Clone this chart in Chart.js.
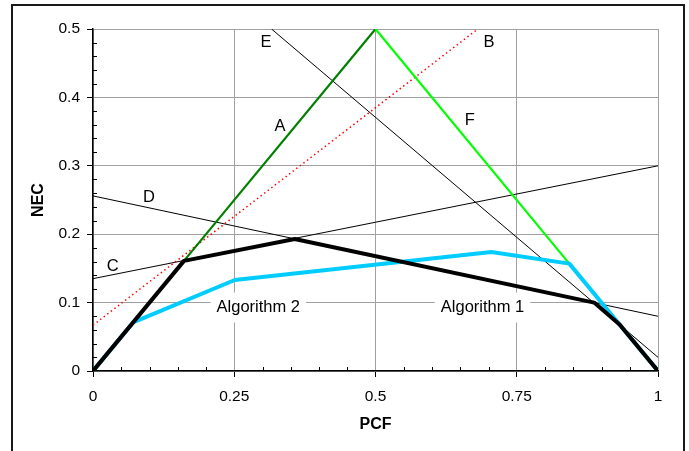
<!DOCTYPE html>
<html>
<head>
<meta charset="utf-8">
<script src="https://cdn.jsdelivr.net/npm/chart.js@4"></script>
<style>
  body { margin: 0; background: #fff; }
  canvas { display: block; }
</style>
</head>
<body>
<canvas id="necChart" width="689" height="451"></canvas>
<script>
// Lines of the cost space (PCF, NEC)
const lineA_x = [0.161, 0.5];
const lineA_y = [0.161, 0.5];
const lineB_x = [0, 0.681];
const lineB_y = [0.067, 0.5];
const lineC_x = [0, 1];
const lineC_y = [0.135, 0.30];
const lineD_x = [0, 1];
const lineD_y = [0.256, 0.08];
const lineE_x = [0.316, 1];
const lineE_y = [0.5, 0.02];
const lineF_x = [0.5, 0.843];
const lineF_y = [0.5, 0.157];

// Lower envelopes of the two algorithms
const algo1_x = [0, 0.161, 0.357, 0.887, 0.932, 1];
const algo1_y = [0, 0.161, 0.193, 0.100, 0.068, 0];
const algo2_x = [0, 0.071, 0.251, 0.705, 0.843, 0.932, 1];
const algo2_y = [0, 0.071, 0.133, 0.174, 0.157, 0.068, 0];

// Axis ticks
const xMajorStep = 0.25, xMinorStep = 0.05;
const yMajorStep = 0.1, yMinorStep = 0.02;

// Text notes placed in data coordinates
const noteText = ['A', 'B', 'C', 'D', 'E', 'F', 'Algorithm 2', 'Algorithm 1'];
const noteX = [0.331, 0.701, 0.035, 0.099, 0.306, 0.667, 0.2926, 0.6894];
const noteY = [0.358, 0.481, 0.153, 0.253, 0.480, 0.367, 0.0928, 0.0928];
const noteBoxed = [false, false, false, false, false, false, true, true];

const zip = (xs, ys) => xs.map((x, i) => ({ x: x, y: ys[i] }));
const isMajor = (v, step) => Math.abs(v / step - Math.round(v / step)) < 1e-6;

Chart.defaults.font.family = '"Liberation Sans", Arial, sans-serif';
Chart.defaults.color = '#000';

function series(data, color, width, dash) {
    return {
        data: data,
        borderColor: color,
        borderWidth: width,
        borderDash: dash || [],
        showLine: true,
        pointRadius: 0,
        fill: false,
        tension: 0,
        borderJoinStyle: 'round'
    };
}

// outer frame around the figure
const framePlugin = {
    id: 'frame',
    beforeDraw(chart) {
        const ctx = chart.ctx;
        ctx.save();
        ctx.fillStyle = '#fff';
        ctx.fillRect(0, 0, chart.width, chart.height);
        ctx.strokeStyle = '#1a1a1a';
        ctx.lineWidth = 2;
        ctx.strokeRect(12, 5, 672, 460);
        ctx.restore();
    }
};

// small inner ticks between the labelled ones
const minorTicksPlugin = {
    id: 'minorTicks',
    afterDraw(chart) {
        const { ctx, chartArea } = chart;
        const xs = chart.scales.x, ys = chart.scales.y;
        ctx.save();
        ctx.strokeStyle = '#000';
        ctx.lineWidth = 1;
        ctx.beginPath();
        for (let k = 0; k * xMinorStep <= xs.max + 1e-9; k++) {
            const v = k * xMinorStep;
            if (isMajor(v, xMajorStep)) continue;
            const px = Math.round(xs.getPixelForValue(v)) + 0.5;
            ctx.moveTo(px, chartArea.bottom);
            ctx.lineTo(px, chartArea.bottom - 4);
        }
        for (let k = 0; k * yMinorStep <= ys.max + 1e-9; k++) {
            const v = k * yMinorStep;
            if (isMajor(v, yMajorStep)) continue;
            const py = Math.round(ys.getPixelForValue(v)) + 0.5;
            ctx.moveTo(chartArea.left, py);
            ctx.lineTo(chartArea.left + 4, py);
        }
        ctx.stroke();
        ctx.restore();
    }
};

// letters and algorithm names on the plot
const notesPlugin = {
    id: 'notes',
    beforeDatasetsDraw(chart) {
        const ctx = chart.ctx;
        const xs = chart.scales.x, ys = chart.scales.y;
        ctx.save();
        ctx.font = '16.5px "Liberation Sans", Arial, sans-serif';
        ctx.fillStyle = '#fff';
        noteText.forEach((t, i) => {
            if (!noteBoxed[i]) return;
            const w = ctx.measureText(t).width + 12;
            const cx = xs.getPixelForValue(noteX[i]);
            const cy = ys.getPixelForValue(noteY[i]);
            ctx.fillRect(cx - w / 2, cy - 15, w, 30);
        });
        ctx.restore();
    },
    afterDatasetsDraw(chart) {
        const ctx = chart.ctx;
        const xs = chart.scales.x, ys = chart.scales.y;
        ctx.save();
        ctx.font = '16.5px "Liberation Sans", Arial, sans-serif';
        ctx.fillStyle = '#000';
        ctx.textAlign = 'center';
        ctx.textBaseline = 'middle';
        noteText.forEach((t, i) => {
            ctx.fillText(t, xs.getPixelForValue(noteX[i]), ys.getPixelForValue(noteY[i]));
        });
        ctx.restore();
    }
};

// first dataset ends up on top
new Chart(document.getElementById('necChart'), {
    type: 'scatter',
    data: {
        datasets: [
            series(zip(algo1_x, algo1_y), '#000', 4),
            series(zip(algo2_x, algo2_y), '#00ccff', 4),
            series(zip(lineF_x, lineF_y), '#00ff00', 2.2),
            series(zip(lineA_x, lineA_y), '#008000', 2.2),
            series(zip(lineB_x, lineB_y), '#ff0000', 1.5, [1.5, 3]),
            series(zip(lineE_x, lineE_y), '#000', 1),
            series(zip(lineD_x, lineD_y), '#000', 1),
            series(zip(lineC_x, lineC_y), '#000', 1)
        ]
    },
    options: {
        responsive: false,
        animation: false,
        devicePixelRatio: 1,
        layout: { padding: { top: 29, right: 31, left: 0, bottom: 0 } },
        plugins: {
            legend: { display: false },
            tooltip: { enabled: false }
        },
        scales: {
            x: {
                type: 'linear',
                position: 'bottom',
                min: 0,
                max: 1,
                afterFit(scale) { scale.height = 80; },
                border: { color: '#000', width: 1.5 },
                grid: {
                    color: c => isMajor(c.tick.value, xMajorStep) ? '#a0a0a0' : 'rgba(0,0,0,0)',
                    tickColor: c => isMajor(c.tick.value, xMajorStep) ? '#000' : 'rgba(0,0,0,0)',
                    tickLength: 6,
                    lineWidth: 1
                },
                ticks: {
                    stepSize: xMinorStep,
                    autoSkip: false,
                    maxRotation: 0,
                    padding: 10,
                    font: { size: 15.5 },
                    callback: v => isMajor(v, xMajorStep) ? String(Math.round(v * 100) / 100) : ''
                },
                title: {
                    display: true,
                    text: 'PCF',
                    font: { size: 16, weight: 'bold' },
                    padding: { top: 0, bottom: 17 }
                }
            },
            y: {
                type: 'linear',
                min: 0,
                max: 0.5,
                afterFit(scale) { scale.width = 93; },
                border: { color: '#000', width: 1.5 },
                grid: {
                    color: c => isMajor(c.tick.value, yMajorStep) ? '#a0a0a0' : 'rgba(0,0,0,0)',
                    tickColor: c => isMajor(c.tick.value, yMajorStep) ? '#000' : 'rgba(0,0,0,0)',
                    tickLength: 6,
                    lineWidth: 1
                },
                ticks: {
                    stepSize: yMinorStep,
                    autoSkip: false,
                    padding: 7,
                    font: { size: 15.5 },
                    callback: v => isMajor(v, yMajorStep) ? String(Math.round(v * 10) / 10) : ''
                },
                title: {
                    display: true,
                    text: 'NEC',
                    font: { size: 16, weight: 'bold' },
                    padding: { top: 29, bottom: 0 }
                }
            }
        }
    },
    plugins: [framePlugin, minorTicksPlugin, notesPlugin]
});
</script>
</body>
</html>
